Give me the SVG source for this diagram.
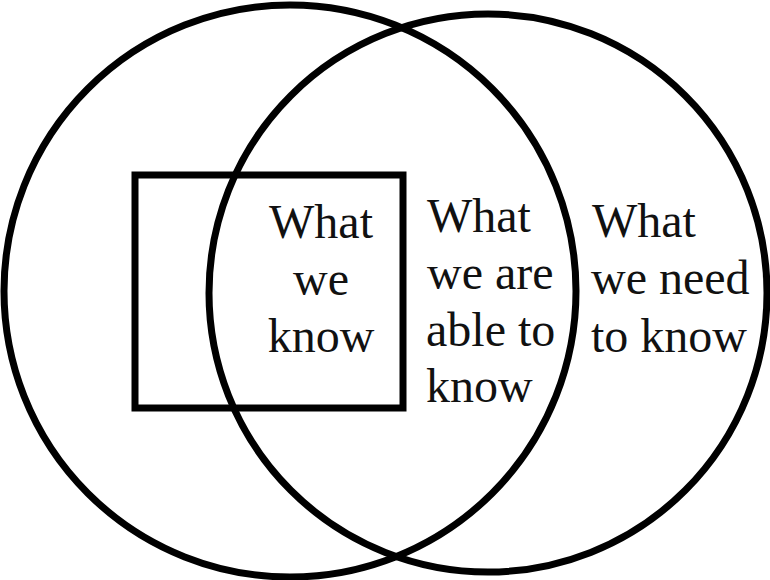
<svg xmlns="http://www.w3.org/2000/svg" width="770" height="580" viewBox="0 0 770 580">
<style>
.s{fill:none;stroke:#000;stroke-width:7}
.t{font-family:"Liberation Serif","Times New Roman",serif;font-size:48px;fill:#111}
</style>
<rect width="770" height="580" fill="#fff"/>
<g id="left-circle"><circle class="s" cx="290" cy="291" r="286"/></g>
<g id="right-circle"><circle class="s" cx="488" cy="293" r="279"/></g>
<g id="box"><rect class="s" x="135" y="175" width="268" height="233"/></g>
<g id="known">
<text class="t" text-anchor="middle" x="321" y="238">What</text>
<text class="t" text-anchor="middle" x="321" y="295">we</text>
<text class="t" text-anchor="middle" x="321" y="352">know</text>
</g>
<g id="able">
<text class="t" x="427" y="232">What</text>
<text class="t" x="427" y="289">we are</text>
<text class="t" x="426" y="346">able to</text>
<text class="t" x="426" y="402">know</text>
</g>
<g id="need">
<text class="t" x="592" y="237">What</text>
<text class="t" x="591" y="294">we need</text>
<text class="t" x="591" y="352">to know</text>
</g>
</svg>
